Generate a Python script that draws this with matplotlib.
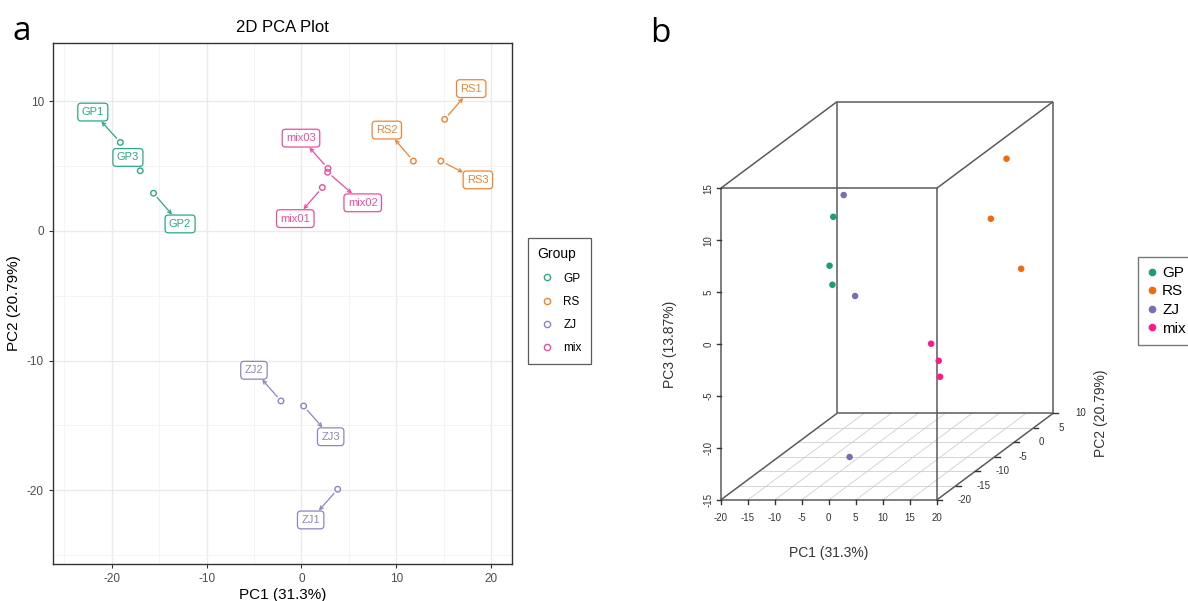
import matplotlib
matplotlib.use('Agg')
import matplotlib.pyplot as plt
from matplotlib.lines import Line2D
import numpy as np

plt.rcParams['font.family'] = ['Liberation Sans', 'DejaVu Sans']
plt.rcParams['axes.unicode_minus'] = False

# PCA scores per sample
samples = ['GP1', 'GP2', 'GP3', 'RS1', 'RS2', 'RS3', 'ZJ1', 'ZJ2', 'ZJ3', 'mix01', 'mix02', 'mix03']
groups = ['GP', 'GP', 'GP', 'RS', 'RS', 'RS', 'ZJ', 'ZJ', 'ZJ', 'mix', 'mix', 'mix']
pc1 = [-19.1, -15.6, -17.0, 15.1, 11.8, 14.7, 3.82, -2.16, 0.23, 2.2, 2.76, 2.80]
pc2 = [6.83, 2.91, 4.64, 8.61, 5.39, 5.39, -19.93, -13.12, -13.51, 3.35, 4.53, 4.82]
pc3 = [0.09, 5.89, -1.13, -0.70, 5.01, 10.79, -10.88, 12.44, 2.83, -6.45, -8.42, -10.04]
# repelled label positions in panel a
label_x = [-22.0, -12.8, -18.3, 17.9, 9.0, 18.6, 0.97, -5.01, 3.08, -0.65, 6.46, -0.05]
label_y = [9.17, 0.54, 5.67, 10.98, 7.78, 3.94, -22.3, -10.75, -15.88, 0.95, 2.17, 7.16]

group_names = ['GP', 'RS', 'ZJ', 'mix']
colors_2d = {'GP': '#2aa985', 'RS': '#ee8432', 'ZJ': '#8b86c2', 'mix': '#ee4c9f'}
colors_3d = {'GP': '#1B9E77', 'RS': '#F26A0A', 'ZJ': '#7570B3', 'mix': '#FF1A8C'}

W, H = 1188, 601
fig = plt.figure(figsize=(W / 100, H / 100), dpi=100)

# ---------------- panel a ----------------
ax = fig.add_axes([53 / W, 1 - 564 / H, 459 / W, 521 / H])
ax.set_xlim(-26.2, 22.2)
ax.set_ylim(-25.7, 14.5)
ax.set_xticks([-20, -10, 0, 10, 20])
ax.set_yticks([-20, -10, 0, 10])
ax.set_xticks([-25, -15, -5, 5, 15], minor=True)
ax.set_yticks([-25, -15, -5, 5], minor=True)
ax.grid(which='major', color='#EBEBEB', lw=1.0)
ax.grid(which='minor', color='#F2F2F2', lw=0.6)
ax.set_axisbelow(True)
ax.tick_params(which='major', length=3, color='#333333', labelcolor='#4D4D4D', labelsize=8.5)
ax.tick_params(which='minor', length=0)
for s in ax.spines.values():
    s.set_color('#333333')
    s.set_linewidth(1.0)

for i, name in enumerate(samples):
    c = colors_2d[groups[i]]
    ax.scatter(pc1[i], pc2[i], s=16, facecolors='none', edgecolors=c, linewidths=1.0, zorder=3)
    far = np.hypot(label_x[i] - pc1[i], label_y[i] - pc2[i]) > 2.0
    ax.annotate(name, xy=(pc1[i], pc2[i]), xytext=(label_x[i], label_y[i]),
                ha='center', va='center', fontsize=8, color=c, zorder=4,
                bbox=dict(boxstyle='round,pad=0.35,rounding_size=0.3', fc='white', ec=c, lw=0.9),
                arrowprops=dict(arrowstyle='<-,head_length=0.3,head_width=0.15', color=c, lw=0.9,
                                shrinkA=0, shrinkB=4) if far else None)

ax.set_title('2D PCA Plot', fontsize=12, pad=8)
ax.set_xlabel('PC1 (31.3%)', fontsize=11, labelpad=2)
ax.set_ylabel('PC2 (20.79%)', fontsize=11, labelpad=4)

handles = [Line2D([], [], ls='none', marker='o', markersize=4.5, mfc='none',
                  mec=colors_2d[g], mew=1.0) for g in group_names]
leg = fig.legend(handles, group_names, title='Group', loc='upper left',
                 bbox_to_anchor=(522 / W, 1 - 232 / H), fontsize=8.5, title_fontsize=10,
                 frameon=True, fancybox=False, edgecolor='#333333', labelspacing=0.95,
                 handletextpad=0.6, borderpad=0.8, handlelength=1.6)
leg._legend_box.align = 'left'
leg.get_frame().set_linewidth(0.9)

# ---------------- panel b (oblique 3D projection) ----------------
ax3 = fig.add_axes([640 / W, 1 - 580 / H, 460 / W, 520 / H])
ax3.set_xlim(-34.94, 50.24)
ax3.set_ylim(-22.70, 27.35)
ax3.axis('off')

x_lo, x_hi = -20, 20
y_lo, y_hi = -20, 10
z_lo, z_hi = -15, 15
depth_u, depth_v = 0.718, 0.278


def proj(x, y, z):
    x, y, z = np.asarray(x, float), np.asarray(y, float), np.asarray(z, float)
    return x + depth_u * (y - y_lo), z + depth_v * (y - y_lo)


# floor grid
for gx in range(-15, 20, 5):
    u, v = proj([gx, gx], [y_lo, y_hi], [z_lo, z_lo])
    ax3.plot(u, v, color='#cfcfcf', lw=0.6, zorder=1)
for gy in range(-15, 10, 5):
    u, v = proj([x_lo, x_hi], [gy, gy], [z_lo, z_lo])
    ax3.plot(u, v, color='#cfcfcf', lw=0.6, zorder=1)

# box edges
edges = []
for y in (y_lo, y_hi):
    for z in (z_lo, z_hi):
        edges.append(([x_lo, x_hi], [y, y], [z, z]))
for x in (x_lo, x_hi):
    for z in (z_lo, z_hi):
        edges.append(([x, x], [y_lo, y_hi], [z, z]))
    for y in (y_lo, y_hi):
        edges.append(([x, x], [y, y], [z_lo, z_hi]))
for ex, ey, ez in edges:
    u, v = proj(ex, ey, ez)
    ax3.plot(u, v, color='#5a5a5a', lw=1.1, zorder=2, solid_capstyle='butt')

# ticks and tick labels
for t in range(-20, 25, 5):
    u, v = proj(t, y_lo, z_lo)
    ax3.plot([u, u], [v, v - 0.35], color='#333333', lw=1.0)
    ax3.text(u, v - 1.76, str(t), ha='center', va='center', fontsize=7, color='#333333')
for t in range(-15, 20, 5):
    u, v = proj(x_lo, y_lo, t)
    ax3.plot([u, u - 0.7], [v, v], color='#333333', lw=1.0)
    ax3.text(u - 2.3, v, str(t), ha='center', va='center', fontsize=7, color='#333333', rotation=90)
for t in range(-20, 15, 5):
    u, v = proj(x_hi, t, z_lo)
    ax3.plot([u, u + 0.9], [v, v], color='#333333', lw=1.0)
    ax3.text(u + 5.1, v, str(t), ha='center', va='center', fontsize=7, color='#333333')

ax3.text(0, -20.13, 'PC1 (31.3%)', ha='center', va='center', fontsize=10, color='#333333')
ax3.text(-29.4, 0, 'PC3 (13.87%)', ha='center', va='center', fontsize=10, color='#333333', rotation=90)
ax3.text(50.4, -6.67, 'PC2 (20.79%)', ha='center', va='center', fontsize=10, color='#333333',
         rotation=90, clip_on=False)

pu, pv = proj(pc1, pc2, pc3)
for g in group_names:
    idx = [i for i, gg in enumerate(groups) if gg == g]
    ax3.scatter(pu[idx], pv[idx], s=22, color=colors_3d[g], edgecolors='none', zorder=3)

handles3 = [Line2D([], [], ls='none', marker='o', markersize=5.5, mfc=colors_3d[g], mec='none')
            for g in group_names]
leg3 = fig.legend(handles3, group_names, loc='upper left', bbox_to_anchor=(1137.7 / W, 1 - 256.7 / H),
                  fontsize=11, frameon=True, fancybox=False, edgecolor='#555555',
                  labelspacing=0.3, handletextpad=0.3, borderpad=0.6, handlelength=0.7,
                  borderaxespad=0)
leg3.get_frame().set_linewidth(1.0)

# panel letters
fig.text(12 / W, 1 - 40 / H, 'a', fontsize=24, family=['Open Sans', 'DejaVu Sans'], va='baseline')
fig.text(650 / W, 1 - 42 / H, 'b', fontsize=24, family=['Open Sans', 'DejaVu Sans'], va='baseline')

fig.savefig('out.png', dpi=100)
